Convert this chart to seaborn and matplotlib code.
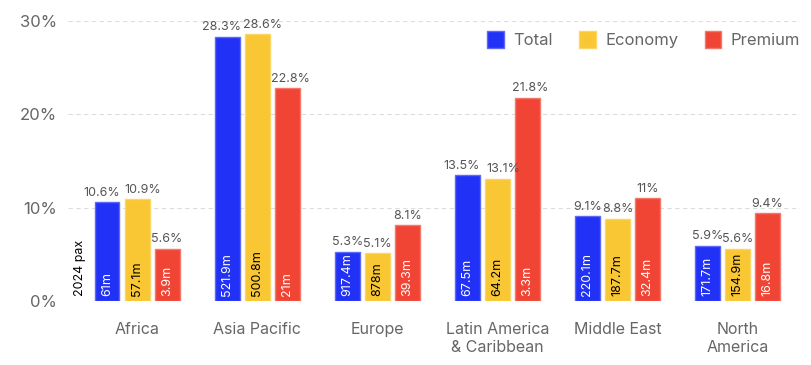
import pandas as pd
import matplotlib.pyplot as plt
import seaborn as sns
from matplotlib.patches import Patch

regions = ["Africa", "Asia Pacific", "Europe", "Latin America\n& Caribbean",
           "Middle East", "North\nAmerica"]
series = ["Total", "Economy", "Premium"]
total_pct = [10.6, 28.3, 5.3, 13.5, 9.1, 5.9]
economy_pct = [10.9, 28.6, 5.1, 13.1, 8.8, 5.6]
premium_pct = [5.6, 22.8, 8.1, 21.8, 11, 9.4]
total_pax = ["61m", "521.9m", "917.4m", "67.5m", "220.1m", "171.7m"]
economy_pax = ["57.1m", "500.8m", "878m", "64.2m", "187.7m", "154.9m"]
premium_pax = ["3.9m", "21m", "39.3m", "3.3m", "32.4m", "16.8m"]
yticks = [0, 10, 20, 30]

colors = {"Total": "#2131F5", "Economy": "#F9C733", "Premium": "#F04535"}
edges = {"Total": "#5C69F7", "Economy": "#FBD666", "Premium": "#F4776B"}
inside_color = {"Total": "white", "Economy": "black", "Premium": "white"}
# long labels get nudged apart so neighbours don't collide
nudge = {"Total": -4, "Economy": 4, "Premium": 2}

rows = []
for s, pcts in zip(series, [total_pct, economy_pct, premium_pct]):
    for r, v in zip(regions, pcts):
        rows.append({"region": r, "series": s, "pct": v})
df = pd.DataFrame(rows)

sns.set_style("white")
plt.rcParams["font.family"] = ["Inter", "DejaVu Sans"]

fig = plt.figure(figsize=(8.11, 3.65), dpi=100)
ax = fig.add_axes([68 / 811, 64 / 365, 732 / 811, 280 / 365])

sns.barplot(data=df, x="region", y="pct", hue="series", order=regions,
            hue_order=series, palette=colors, width=0.75, gap=0.17,
            ax=ax, legend=False, saturation=1)

pax = {"Total": total_pax, "Economy": economy_pax, "Premium": premium_pax}
pcts = {"Total": total_pct, "Economy": economy_pct, "Premium": premium_pct}
for cont, s in zip(ax.containers, series):
    for p, v, lab in zip(cont, pcts[s], pax[s]):
        p.set_edgecolor(edges[s])
        p.set_linewidth(1)
        cx = p.get_x() + p.get_width() / 2
        txt = f"{v:g}%"
        dx = nudge[s] if len(txt) >= 5 else 0
        ax.annotate(txt, (cx, p.get_height()), xytext=(dx, 2.5),
                    textcoords="offset points", ha="center", va="bottom",
                    fontsize=9, color="#555555", annotation_clip=False)
        ax.text(cx, 0.55, lab, rotation=90, ha="center", va="bottom",
                fontsize=9, color=inside_color[s])

ax.text(-0.475, 0.55, "2024 pax", rotation=90, ha="center", va="bottom",
        fontsize=9, color="black")

ax.set_ylim(0, 30)
ax.set_xlim(-0.575, 5.52)
ax.set_yticks(yticks)
ax.set_yticklabels([f"{t}%" for t in yticks])
ax.tick_params(axis="y", length=0, pad=8, labelsize=12, labelcolor="#666666")
ax.tick_params(axis="x", length=0, pad=15, labelsize=11.5, labelcolor="#666666")
for lab in ax.get_xticklabels():
    lab.set_linespacing(1.3)
ax.set_xlabel("")
ax.set_ylabel("")
ax.grid(axis="y", color="#dddddd", linestyle=(0, (4, 3)), linewidth=0.8)
ax.set_axisbelow(True)
sns.despine(ax=ax, left=True, bottom=True)

handles = [Patch(facecolor=colors[s], edgecolor=edges[s], label=s) for s in series]
ax.legend(handles=handles, loc="upper right", bbox_to_anchor=(1.0, 0.965),
          ncol=3, frameon=False, handlelength=1.0, handleheight=1.2,
          columnspacing=1.6, handletextpad=0.55, fontsize=12,
          borderaxespad=0, borderpad=0, labelcolor="#666666")

fig.savefig("out.png", dpi=100)
